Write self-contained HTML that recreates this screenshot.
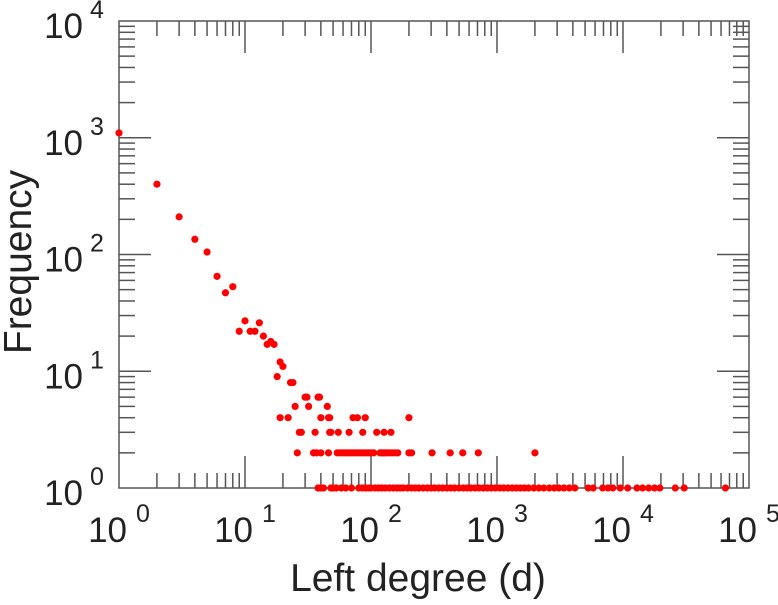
<!DOCTYPE html>
<html><head><meta charset="utf-8"><style>
html,body{margin:0;padding:0;background:#fff;}
svg text{font-family:"Liberation Sans",sans-serif;fill:#222;}
</style></head><body>
<svg id="chart" width="778" height="600" viewBox="0 0 778 600" xmlns="http://www.w3.org/2000/svg">
<g id="ticks"></g>
<rect x="119" y="21" width="630" height="467" fill="none" stroke="#555" stroke-width="1.5"/>
<g id="labels"></g>
<g id="points"></g>
<text x="418" y="591" font-size="39" text-anchor="middle">Left degree (d)</text>
<text transform="translate(31,262) rotate(-90)" font-size="39" text-anchor="middle">Frequency</text>
</svg>
<script>
const xTickExps = [0,1,2,3,4,5];
const yTickExps = [0,1,2,3,4];
const headDegrees = [1,2,3,4,5,6,7,8,9,10,11,12,13,14,15,16,17,18,19,20,23,24];
const headFreqs   = [1100,400,210,135,105,65,47,53,22,27,22,22,26,20,17,18,17,9,12,11,8,8];
const deg6 = [30,31,38,39];
const deg5 = [25,32,45];
const deg4 = [19,22,40,46,47,72,78,90,200];
const deg3 = [27,28,36,47,48,55,67,86,111,127,144];
const deg2 = [26,35,37,40,46,54,57,60,63,66,69,72,76,80,84,88,92,96,100,105,118,123,128,133,140,147,155,163,200,210,305,425,535,710,2000];
const deg1 = [38,40,42,48,50,53,58,63,70,80,85,90,95,100,108,115,122,130,140,150,160,170,180,195,210,225,240,260,280,300,320,345,370,400,430,460,500,540,580,620,670,720,780,840,900,970,1050,1130,1220,1320,1420,1530,1650,1780,1960,2150,2350,2600,2850,3100,3400,3750,4150,5300,5800,6900,7600,8300,9500,10900,12900,14300,16000,17800,19600,26000,30600,65000];

const X0=119,X1=749,Y0=488,Y1=21;
const xs=d=>X0+(Math.log10(d)-0)/5*(X1-X0);
const ys=f=>Y0-(Math.log10(f)-0)/4*(Y0-Y1);
const NS="http://www.w3.org/2000/svg";
const tg=document.getElementById('ticks'), lg=document.getElementById('labels'), pg=document.getElementById('points');
function line(x1,y1,x2,y2,name){const l=document.createElementNS(NS,'line');
l.setAttribute('x1',x1);l.setAttribute('y1',y1);l.setAttribute('x2',x2);l.setAttribute('y2',y2);
l.setAttribute('stroke','#555');l.setAttribute('stroke-width','1.5');


tg.appendChild(l);}
function txt(x,y,s,size,anchor,name){const t=document.createElementNS(NS,'text');
t.setAttribute('x',x);t.setAttribute('y',y);t.setAttribute('font-size',size);t.setAttribute('text-anchor',anchor);


t.textContent=s;lg.appendChild(t);}
for(let i=0;i<xTickExps.length;i++){const e=xTickExps[i];const x=xs(Math.pow(10,e));
 if(e>0&&e<5){line(x,Y0,x,Y0-32,'x-major-tick');line(x,Y1,x,Y1+32,'x-major-tick-top');}
 txt(x+8,542,'10',35,'end','x-tick-label');
 txt(x+17,522,String(e),25,'start','x-tick-exponent');
 if(e<5){for(let m=2;m<10;m++){const xm=xs(m*Math.pow(10,e));line(xm,Y0,xm,Y0-15,'x-minor-tick');line(xm,Y1,xm,Y1+15,'x-minor-tick-top');}}}
for(let i=0;i<yTickExps.length;i++){const e=yTickExps[i];const y=ys(Math.pow(10,e));
 if(e>0&&e<4){line(X0,y,X0+32,y,'y-major-tick');line(X1,y,X1-32,y,'y-major-tick-right');}
 txt(83,y+17,'10',35,'end','y-tick-label');
 txt(90,y-3,String(e),25,'start','y-tick-exponent');
 if(e<4){for(let m=2;m<10;m++){const ym=ys(m*Math.pow(10,e));line(X0,ym,X0+16,ym,'y-minor-tick');line(X1,ym,X1-16,ym,'y-minor-tick-right');}}}
function dot(d,f){const c=document.createElementNS(NS,'circle');
c.setAttribute('cx',xs(d));c.setAttribute('cy',ys(f));c.setAttribute('r',3.6);c.setAttribute('fill','#ff0000');


pg.appendChild(c);}
headDegrees.forEach((d,i)=>dot(d,headFreqs[i]));
deg6.forEach(d=>dot(d,6));deg5.forEach(d=>dot(d,5));deg4.forEach(d=>dot(d,4));
deg3.forEach(d=>dot(d,3));deg2.forEach(d=>dot(d,2));deg1.forEach(d=>dot(d,1));
</script>
</body></html>
